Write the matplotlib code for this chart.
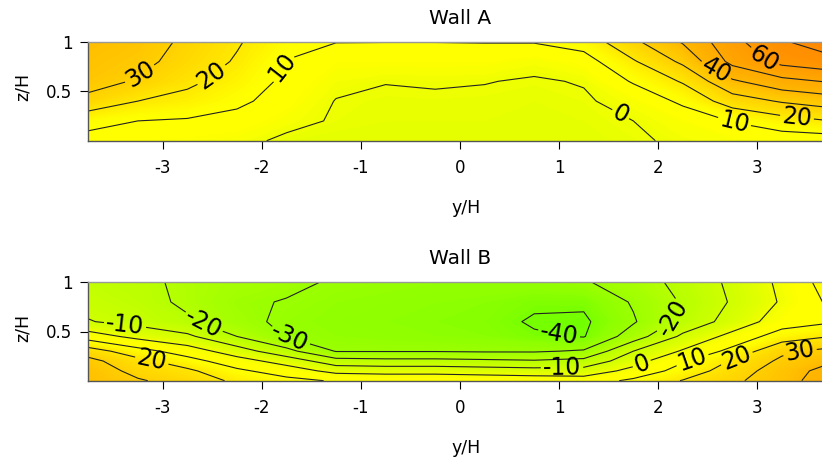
import numpy as np
import matplotlib.pyplot as plt
from matplotlib.colors import LinearSegmentedColormap, Normalize

plt.rcParams['font.family'] = ['DejaVu Sans']
plt.rcParams['axes.unicode_minus'] = False

# grid positions (y/H across, z/H up)
y_pos = [-3.75, -3.25, -2.75, -2.25, -1.75, -1.25, -0.75, -0.25,
         0.25, 0.75, 1.25, 1.75, 2.25, 2.75, 3.25, 3.75]

# Wall A, rows from z/H = 0 to 1
z_pos_a = [0.0, 0.2, 0.4, 0.6, 0.8, 1.0]
wall_a = [
    [7, 5, 4, 3, -2, -3, -3, -3, -3, -3, -3, -1.2, 1.5, 3, 4.5, 5],
    [13, 10, 9, 7, 3, -1, -2, -2, -2, -2.5, -2, 0, 4, 10.5, 16, 20],
    [27, 20, 17, 12, 6, -0.3, -1.5, -1.2, -1.5, -2, -1, 3, 12, 25, 31, 35],
    [34, 29, 22, 16, 8, 2, 0.3, 0.8, 0.3, -0.8, 0.5, 11, 21, 38.5, 47, 51],
    [36, 33, 26, 19, 9.7, 5, 5, 5, 5, 2.5, 6, 19, 32, 53, 63, 67],
    [38, 35, 28, 21, 13, 10.3, 10.2, 10.2, 10.4, 10.6, 14, 28, 41, 57, 69, 76],
]

# Wall B, rows from z/H = 0 to 1
z_pos_b = [0.0, 0.1, 0.2, 0.3, 0.45, 0.6, 0.8, 1.0]
wall_b = [
    [37, 31, 26, 18, 13, 9, 8, 8, 7, 6, 5, 12, 20.5, 28, 36, 46],
    [36, 27, 22, 12, 5, -3, -4, -4, -5, -6, -6, 3, 14, 25, 35, 44],
    [33, 23, 14, 4, -4, -16, -17, -17, -18, -19, -17, -4, 9, 21, 32, 39],
    [25, 14, 5, -5, -17, -30.5, -30.5, -30.5, -31, -31, -29, -10, 1, 13, 28, 33],
    [5, -3, -8, -20, -30.5, -33, -34, -35, -36, -39, -40.5, -25, -8, 3, 15, 20],
    [-9.5, -13, -18.5, -27, -32, -34, -35, -36, -37, -41, -41.5, -31, -17, -6, 5, 9],
    [-13, -16, -22, -28.5, -30.5, -33, -34, -35, -36, -38.5, -38.5, -29, -19, -9, 1, 12],
    [-15, -17, -22.5, -26, -28, -31, -32, -33, -33, -33, -31, -25, -17, -8, 2, 15],
]

line_levels = list(range(-40, 80, 10))

# where the contour labels sit
labels_a = [(-3.2, 0.63), (-2.55, 0.72), (-1.9, 0.8), (1.65, 0.32),
            (2.58, 0.70), (3.06, 0.82), (2.77, 0.19), (3.4, 0.22)]
labels_b = [(-3.38, 0.56), (-2.6, 0.56), (-1.72, 0.43), (-3.1, 0.25),
            (1.0, 0.47), (2.2, 0.62), (1.03, 0.15), (1.84, 0.16),
            (2.35, 0.2), (2.8, 0.21), (3.43, 0.30)]

vmin, vmax = -45, 80
stops = [(-45, '#62ff00'), (-35, '#8fff00'), (-20, '#b5ff00'), (-5, '#dcff00'),
         (0, '#eeff00'), (5, '#ffff00'), (12, '#ffff00'), (25, '#ffdc00'),
         (40, '#ffb800'), (60, '#ff9a00'), (80, '#ff8000')]
cmap = LinearSegmentedColormap.from_list(
    'wall', [((v - vmin) / (vmax - vmin), c) for v, c in stops])
norm = Normalize(vmin, vmax)

W, H = 822, 459
fig = plt.figure(figsize=(W / 100, H / 100), dpi=100)


def draw_wall(top_px, bottom_px, z_pos, vals, labels, title, title_y, xlab_y):
    ax = fig.add_axes([88.3 / W, 1 - bottom_px / H, 743.2 / W, (bottom_px - top_px) / H])
    Y, Z = np.meshgrid(y_pos, z_pos)
    V = np.array(vals, dtype=float)
    ax.contourf(Y, Z, V, levels=np.arange(-46, 82, 1), cmap=cmap, norm=norm,
                extend='both', antialiased=False)
    cs = ax.contour(Y, Z, V, levels=line_levels, colors='#222222',
                    linewidths=0.8, linestyles='solid')
    ax.clabel(cs, fmt='%d', fontsize=17, colors='black', inline=True,
              manual=labels, inline_spacing=2)
    ax.set_xlim(-3.75, 3.75)
    ax.set_ylim(0, 1)
    ax.set_xticks(range(-3, 4))
    ax.set_yticks([0.5, 1])
    ax.set_yticklabels(['0.5', '1'])
    ax.tick_params(axis='x', direction='out', length=6, width=0.8, labelsize=12, pad=7)
    ax.tick_params(axis='y', direction='out', length=6, width=0.8, labelsize=12, pad=5.5)
    for s in ax.spines.values():
        s.set_color('#555555')
        s.set_linewidth(1.0)
    ax.spines['top'].set_color('#999999')
    fig.text(460 / W, 1 - title_y / H, title, ha='center', va='center', fontsize=14.5)
    fig.text(466 / W, 1 - xlab_y / H, 'y/H', ha='center', va='center', fontsize=12.5)
    fig.text(23 / W, 1 - (top_px + 0.46 * (bottom_px - top_px)) / H, 'z/H',
             ha='center', va='center', rotation=90, fontsize=12.5)
    return ax


draw_wall(41.7, 140.7, z_pos_a, wall_a, labels_a, 'Wall A', 18, 208)
draw_wall(282.3, 380.7, z_pos_b, wall_b, labels_b, 'Wall B', 258, 448)

fig.savefig('out.png', dpi=100)
